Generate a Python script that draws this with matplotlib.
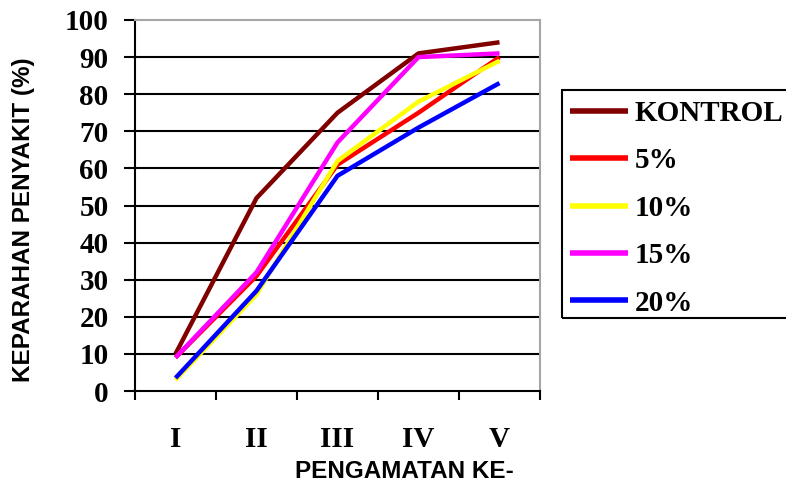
import matplotlib
matplotlib.use("Agg")
import matplotlib.pyplot as plt
from matplotlib.patches import Rectangle

categories = ["I", "II", "III", "IV", "V"]
series_names = ["KONTROL", "5%", "10%", "15%", "20%"]
kontrol = [10, 52, 75, 91, 94]
p5 = [9, 31, 61, 75, 90]
p10 = [3, 26, 62, 78, 89]
p15 = [9, 32, 67, 90, 91]
p20 = [3.5, 27, 58, 71, 83]
y_ticks = [0, 10, 20, 30, 40, 50, 60, 70, 80, 90, 100]
colors = ["#800000", "#ff0000", "#ffff00", "#ff00ff", "#0000ff"]

W, H = 786, 483
fig = plt.figure(figsize=(W / 100, H / 100), dpi=100)
ax = fig.add_axes([135 / W, (H - 391) / H, (540 - 135) / W, (391 - 20) / H])

serif = "Liberation Serif"
sans = "Liberation Sans"

x = list(range(1, len(categories) + 1))
lines = []
for vals, c, name in zip([kontrol, p5, p10, p15, p20], colors, series_names):
    (ln,) = ax.plot(x, vals, color=c, lw=3.2, label=name, solid_capstyle="butt", zorder=3)
    lines.append(ln)

ax.set_xlim(0.5, 5.5)
ax.set_ylim(0, 100)
ax.set_yticks(y_ticks)
ax.set_xticks([0.5, 1.5, 2.5, 3.5, 4.5, 5.5], minor=False)
ax.set_xticklabels([""] * 6, minor=False)
ax.set_xticks(x, minor=True)
ax.set_xticklabels(categories, minor=True)
ax.tick_params(axis="x", which="major", direction="out", length=6.5, width=1.5)
ax.tick_params(axis="x", which="minor", length=0, pad=25, labelsize=21)
ax.tick_params(axis="y", direction="out", length=8, width=1.5, pad=11, labelsize=21)
for lab in ax.get_yticklabels() + ax.get_xticklabels(minor=True):
    lab.set_fontfamily(serif)
    lab.set_fontweight("bold")

for v in y_ticks[1:-1]:
    ax.axhline(v, color="black", lw=1.5, zorder=1)

for s in ["left", "bottom"]:
    ax.spines[s].set_color("black")
    ax.spines[s].set_linewidth(1.5)
for s in ["top", "right"]:
    ax.spines[s].set_color("#a6a6a6")
    ax.spines[s].set_linewidth(1.5)

fig.text(404 / W, 1 - 472 / H, "PENGAMATAN KE-", fontfamily=sans, fontweight="bold",
         fontsize=17.5, ha="center", va="center")
fig.text(23.5 / W, 1 - 220 / H, "KEPARAHAN PENYAKIT (%)", fontfamily=sans, fontweight="bold",
         fontsize=17.5, ha="center", va="center", rotation=90)

leg = fig.legend(handles=lines, loc="upper left", bbox_to_anchor=(570 / W, 1 - 100 / H),
                 frameon=False, prop={"family": serif, "weight": "bold", "size": 21},
                 handlelength=2.0, handletextpad=0.22, labelspacing=0.7, borderaxespad=0,
                 borderpad=0)
for h in leg.legend_handles:
    h.set_linewidth(4)

fig.patches.append(Rectangle((562 / W, 1 - 318 / H), (830 - 562) / W, (318 - 90) / H,
                             transform=fig.transFigure, fill=False, edgecolor="black",
                             lw=1.5, clip_on=False))

fig.savefig("out.png", dpi=100)
